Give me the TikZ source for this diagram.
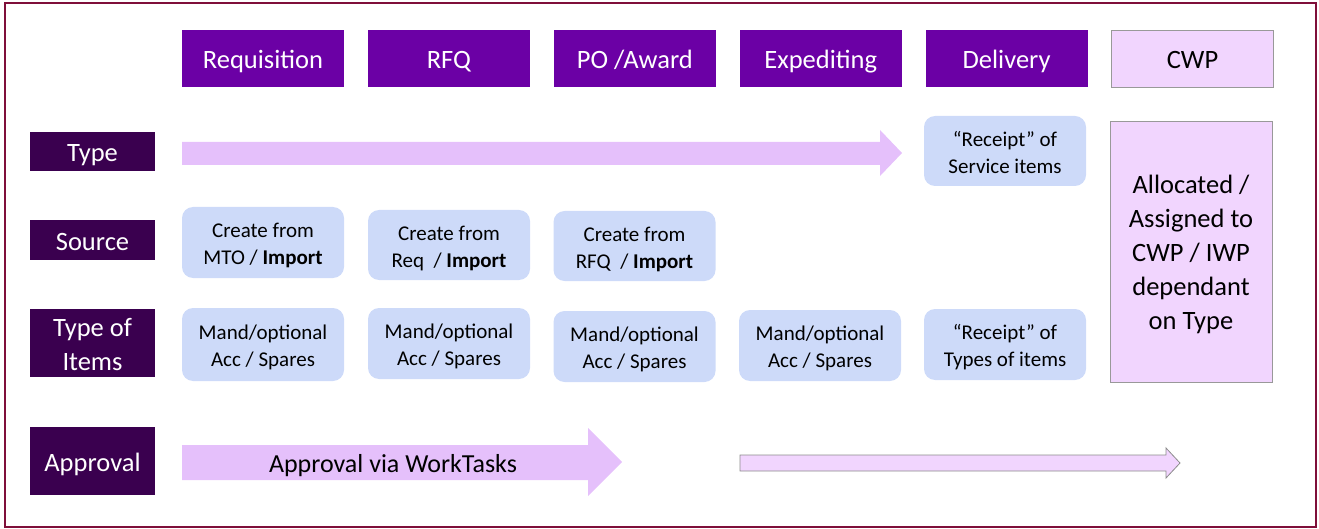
\documentclass[tikz,border=0pt]{standalone}
\usepackage{fontspec}
\setmainfont{Carlito}
\usetikzlibrary{positioning}

\definecolor{hdrpurple}{HTML}{6B00A5}
\definecolor{lbldark}{HTML}{3A004F}
\definecolor{arrowlilac}{HTML}{E5C0FB}
\definecolor{palelilac}{HTML}{F1D5FE}
\definecolor{itemblue}{HTML}{CDDAF9}
\definecolor{framered}{HTML}{7F0F3A}

% text sits a little low in its box
\newcommand{\lowtxt}[1]{\raisebox{-3.5pt}[\height][\depth]{\begin{tabular}{@{}c@{}}#1\end{tabular}}}

\begin{document}
\begin{tikzpicture}[x=1pt, y=-1pt, node distance=23.5pt,
		hdr/.style={fill=hdrpurple, text=white, minimum width=162pt, minimum height=57pt, inner sep=0pt, font=\fontsize{26.5}{32}\selectfont},
		cwphdr/.style={hdr, fill=palelilac, draw=gray!80, text=black},
		rowlbl/.style={fill=lbldark, text=white, minimum width=125pt, inner sep=0pt, font=\fontsize{26.5}{34}\selectfont},
		itembox/.style={fill=itemblue, rounded corners=11pt, minimum width=162pt, inner sep=0pt, font=\fontsize{21}{27}\selectfont}]
		\useasboundingbox (0,0) rectangle (1319,529);
		% Frame
		\draw[framered, line width=2.5pt] (5,3) rectangle (1316,527);

		% Stage headers
		\node[hdr] (req) at (263,58.5) {\lowtxt{Requisition}};
		\node[hdr] (rfq) [right=of req] {\lowtxt{RFQ}};
		\node[hdr] (po) [right=of rfq] {\lowtxt{PO /Award}};
		\node[hdr] (exp) [right=of po] {\lowtxt{Expediting}};
		\node[hdr] (del) [right=of exp] {\lowtxt{Delivery}};
		\node[cwphdr] (cwp) [right=of del] {\lowtxt{CWP}};

		% Row labels
		\node[rowlbl, minimum height=39pt] (type) at (92.5,151.5) {\lowtxt{Type}};
		\node[rowlbl, minimum height=40pt] (source) at (92.5,240) {\lowtxt{Source}};
		\node[rowlbl, minimum height=68pt] (items) at (92.5,343) {\lowtxt{Type of\\Items}};
		\node[rowlbl, minimum height=68pt] (approval) at (92.5,461) {\lowtxt{Approval}};

		% Type row
		\fill[arrowlilac] (182,142) -- (880,142) -- (880,130) -- (902,153) -- (880,176) -- (880,165) -- (182,165) -- cycle;
		\node[itembox, minimum height=70pt] (service) at (1005,151) {\lowtxt{“Receipt” of\\Service items}};

		% Source row
		\node[itembox, minimum height=71pt] (srcreq) at (263,242.5) {\lowtxt{Create from\\MTO / \textbf{Import}}};
		\node[itembox, minimum height=70pt] (srcrfq) at (449,245) {\lowtxt{Create from\\Req~ / \textbf{Import}}};
		\node[itembox, minimum height=70pt] (srcpo) at (634.5,246) {\lowtxt{Create from\\RFQ~ / \textbf{Import}}};

		% Type of items row
		\node[itembox, minimum height=73pt] (itreq) at (263,344.5) {\lowtxt{Mand/optional\\Acc / Spares}};
		\node[itembox, minimum height=71pt] (itrfq) at (449,343.5) {\lowtxt{Mand/optional\\Acc / Spares}};
		\node[itembox, minimum height=71pt] (itpo) at (634.5,346.5) {\lowtxt{Mand/optional\\Acc / Spares}};
		\node[itembox, minimum height=71pt] (itexp) at (820,345.5) {\lowtxt{Mand/optional\\Acc / Spares}};
		\node[itembox, minimum height=71pt] (itdel) at (1005,344.5) {\lowtxt{“Receipt” of\\Types of items}};

		% CWP column
		\node[fill=palelilac, draw=gray!80, minimum width=162pt, minimum height=261pt, inner sep=0pt,
			font=\fontsize{26.5}{34}\selectfont] (alloc) at (1191,251.5) {\lowtxt{Allocated /\\Assigned to\\CWP / IWP\\dependant\\on Type}};

		% Approval row
		\fill[arrowlilac] (182,445) -- (588,445) -- (588,428) -- (622,462) -- (588,496) -- (588,480) -- (182,480) -- cycle;
		\node[font=\fontsize{26}{32}\selectfont] (worktasks) at (393,463) {\lowtxt{Approval via WorkTasks}};
		\filldraw[fill=palelilac, draw=gray!90, line width=0.8pt] (740,455) -- (1166,455) -- (1166,448) -- (1180,463) -- (1166,478) -- (1166,471) -- (740,471) -- cycle;
	\end{tikzpicture}
\end{document}
